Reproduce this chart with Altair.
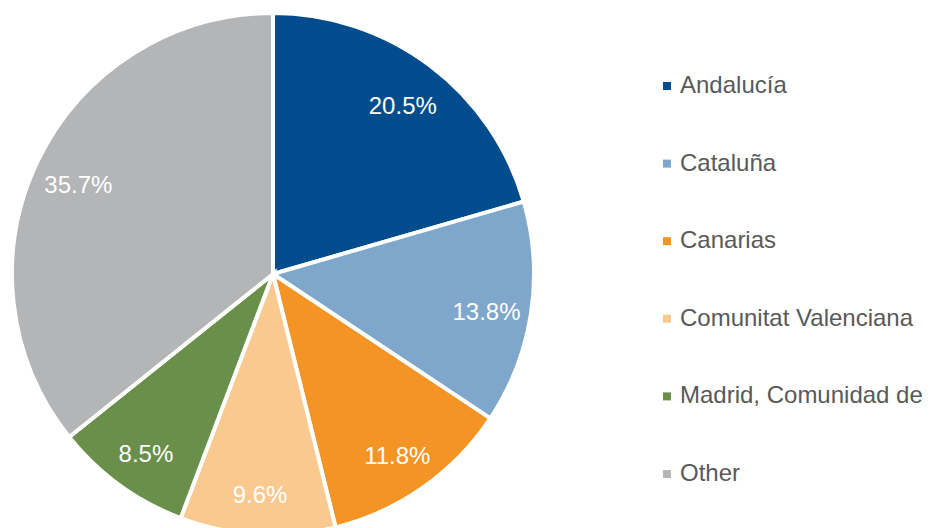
import altair as alt
import pandas as pd

regions = ["Andalucía", "Cataluña", "Canarias", "Comunitat Valenciana", "Madrid, Comunidad de", "Other"]
shares = [20.5, 13.8, 11.8, 9.6, 8.5, 35.7]
colors = ["#004C8C", "#7FA7CB", "#F39425", "#F9C98F", "#6A8F4B", "#B4B5B7"]

df = pd.DataFrame({
    "region": regions,
    "share": shares,
    "order": list(range(len(regions))),
    "label": [f"{v:.1f}%" for v in shares],
})

base = alt.Chart(df).encode(
    theta=alt.Theta("share:Q", stack=True),
    order=alt.Order("order:Q"),
    x=alt.value(273),
    y=alt.value(274),
)

pie = base.mark_arc(outerRadius=261, stroke="white", strokeWidth=4).encode(
    color=alt.Color(
        "region:N",
        scale=alt.Scale(domain=regions, range=colors),
        sort=regions,
        legend=alt.Legend(
            title=None,
            orient="none",
            legendX=655,
            legendY=74,
            symbolType="square",
            symbolSize=64,
            symbolStrokeWidth=0,
            labelFontSize=24,
            labelFont="Liberation Sans",
            labelColor="#595959",
            labelLimit=400,
            rowPadding=53.6,
            labelOffset=1,
        ),
    )
)

labels = base.mark_text(
    radius=216, dy=6, fontSize=24, font="Liberation Sans", color="white"
).encode(text="label:N")

chart = (pie + labels).properties(
    width=934, height=528,
    autosize=alt.AutoSizeParams(type="none"),
    padding=0,
).configure_view(stroke=None)

chart.save("out.html", embed_options={"renderer": "svg", "actions": False})
